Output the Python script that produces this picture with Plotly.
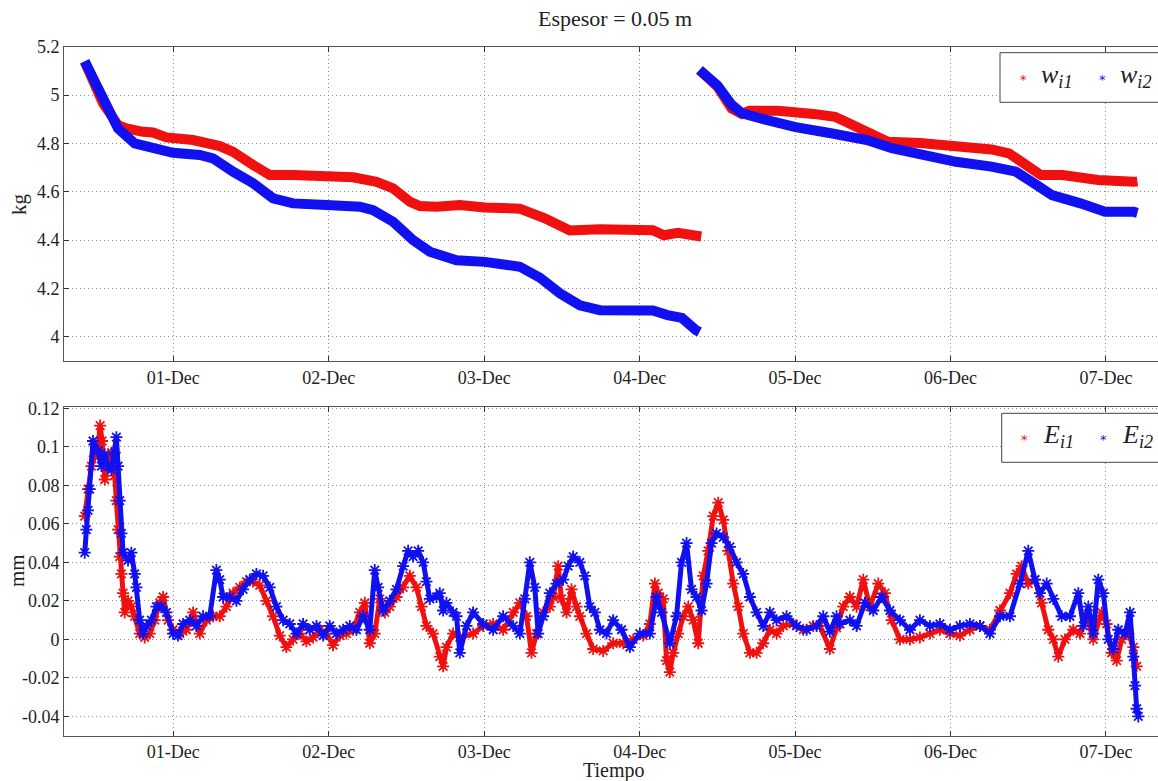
import pandas as pd
import plotly.graph_objects as go

# ---------------------------------------------------------------------------
# Data: time in hours since 30-Nov 00:00, mass (kg) and thickness change (mm)
# ---------------------------------------------------------------------------
START = pd.Timestamp("2011-11-30 00:00")

# mass of sample 1 (two measurement runs, gap between them)
w1_hours = [10.32, 13.14, 15.46, 16.76, 19.32, 20.86, 22.93, 27.04, 31.17, 33.17,
            36.31, 38.89, 42.44, 47.64, 51.75, 55.37, 57.93, 60.51, 62.05, 64.63,
            68.23, 72.09, 77.50, 81.36, 85.22, 89.86, 98.04, 99.74, 101.90, 105.51,
            None,
            105.24, 108.00, 110.19, 111.78, 112.94, 117.34, 122.83, 126.15, 128.31,
            131.63, 134.33, 139.27, 144.83, 150.32, 153.02, 155.26, 157.96, 161.30,
            166.77, 172.29, 172.85]
w1_kg = [5.138, 4.966, 4.876, 4.862, 4.848, 4.845, 4.825, 4.814, 4.789, 4.766,
         4.711, 4.669, 4.669, 4.665, 4.660, 4.641, 4.614, 4.559, 4.541, 4.538,
         4.545, 4.535, 4.530, 4.490, 4.440, 4.445, 4.441, 4.420, 4.430, 4.415,
         None,
         5.104, 5.035, 4.945, 4.922, 4.935, 4.935, 4.922, 4.910, 4.883,
         4.835, 4.807, 4.802, 4.793, 4.775, 4.759, 4.718, 4.669, 4.669,
         4.649, 4.641, 4.643]

# mass of sample 2
w2_hours = [10.32, 13.14, 15.46, 18.04, 20.86, 23.95, 28.08, 30.13, 33.22, 36.31,
            39.40, 42.49, 47.64, 52.79, 54.84, 57.93, 61.02, 63.60, 67.72, 72.09,
            77.50, 80.59, 83.68, 86.77, 89.86, 96.03, 98.04, 100.29, 102.52, 104.68,
            105.24,
            None,
            105.24, 108.00, 110.19, 111.78, 114.56, 120.08, 125.53, 131.09, 134.92,
            139.27, 144.83, 150.32, 154.11, 156.88, 159.66, 164.05, 167.85, 172.29,
            172.85]
w2_kg = [5.140, 4.979, 4.862, 4.800, 4.786, 4.761, 4.752, 4.738, 4.683, 4.635,
         4.573, 4.552, 4.545, 4.538, 4.524, 4.476, 4.400, 4.352, 4.317, 4.310,
         4.290, 4.245, 4.180, 4.130, 4.110, 4.105, 4.109, 4.090, 4.078, 4.028,
         4.020,
         None,
         5.104, 5.040, 4.960, 4.925, 4.904, 4.867, 4.842, 4.814, 4.780,
         4.752, 4.724, 4.704, 4.683, 4.635, 4.586, 4.552, 4.517, 4.517,
         4.513]

# thickness change of sample 1
e1_hours = [10.32, 10.83, 11.35, 11.86, 12.38, 12.70, 13.00, 13.41, 13.92, 14.44,
            14.95, 15.20, 15.47, 15.72, 15.98, 16.24, 16.49, 17.01, 17.52, 18.04,
            18.81, 19.58, 20.36, 21.13, 21.90, 22.42, 23.19, 23.96, 24.99, 26.02,
            27.05, 28.08, 29.11, 30.14, 31.17, 32.20, 33.23, 34.26, 35.29, 36.31,
            37.34, 38.37, 39.40, 40.43, 41.46, 42.49, 43.52, 44.55, 45.58, 46.61,
            47.64, 48.67, 49.70, 50.73, 51.76, 52.79, 53.56, 54.33, 55.10, 55.88,
            56.65, 57.42, 58.45, 59.48, 60.51, 61.54, 62.31, 63.08, 64.11, 65.14,
            65.66, 66.17, 67.20, 68.23, 70.29, 71.84, 73.38, 74.92, 76.47, 77.50,
            78.53, 79.30, 80.07, 81.10, 82.13, 82.65, 83.42, 83.93, 84.71, 85.48,
            86.25, 86.76, 87.79, 88.82, 90.37, 91.91, 93.46, 95.00, 96.55, 97.58,
            98.35, 98.86, 99.64, 100.15, 100.66, 101.18, 101.95, 102.72, 103.50, 104.27,
            105.04, 105.81, 106.58, 107.36, 108.13, 108.90, 109.67, 110.45, 111.22, 111.99,
            113.02, 114.05, 115.08, 116.11, 117.14, 118.17, 119.71, 121.26, 122.80, 123.83,
            125.37, 126.40, 127.43, 128.46, 129.49, 130.52, 131.55, 132.84, 133.87, 134.90,
            136.19, 137.73, 139.27, 140.82, 142.36, 143.91, 145.45, 146.99, 148.54, 150.08,
            151.63, 153.17, 154.20, 154.98, 156.00, 157.03, 158.06, 159.09, 159.87, 160.64,
            161.67, 162.95, 163.98, 165.01, 166.04, 167.33, 168.10, 168.87, 169.65, 170.42,
            171.45, 172.22, 172.74]
e1_mm = [0.064, 0.078, 0.090, 0.095, 0.100, 0.111, 0.103, 0.083, 0.094, 0.097,
         0.085, 0.072, 0.057, 0.043, 0.034, 0.024, 0.014, 0.020, 0.017, 0.012,
         0.003, 0.001, 0.003, 0.010, 0.019, 0.022, 0.010, 0.005, 0.003, 0.005,
         0.014, 0.003, 0.010, 0.012, 0.012, 0.017, 0.024, 0.027, 0.030, 0.030,
         0.028, 0.020, 0.012, 0.002, -0.004, 0.000, 0.003, -0.001, 0.001, 0.005,
         0.003, -0.003, 0.002, 0.003, 0.005, 0.014, 0.019, -0.002, 0.003, 0.021,
         0.014, 0.017, 0.022, 0.027, 0.033, 0.027, 0.017, 0.007, 0.003, -0.009,
         -0.014, -0.004, 0.003, 0.001, 0.003, 0.007, 0.008, 0.005, 0.014, 0.019,
         0.012, -0.007, 0.003, 0.014, 0.017, 0.022, 0.038, 0.021, 0.014, 0.026,
         0.017, 0.012, 0.003, -0.005, -0.006, -0.002, -0.002, 0.000, 0.002, 0.008,
         0.029, 0.024, 0.021, -0.011, -0.017, -0.007, 0.003, 0.012, 0.017, 0.010,
         -0.002, 0.033, 0.046, 0.064, 0.071, 0.062, 0.046, 0.029, 0.017, 0.003,
         -0.007, -0.007, -0.002, 0.005, 0.003, 0.007, 0.008, 0.005, 0.007, 0.007,
         -0.005, 0.006, 0.017, 0.022, 0.017, 0.031, 0.017, 0.029, 0.024, 0.010,
         0.000, 0.000, 0.001, 0.003, 0.005, 0.003, 0.002, 0.005, 0.007, 0.005,
         0.015, 0.024, 0.034, 0.038, 0.029, 0.031, 0.019, 0.005, 0.000, -0.009,
         0.000, 0.005, 0.003, 0.012, 0.000, 0.014, 0.008, -0.007, -0.011, 0.000,
         0.003, -0.004, -0.014]

# thickness change of sample 2
e2_hours = [10.32, 10.57, 10.83, 11.09, 11.60, 12.38, 12.89, 13.41, 13.92, 14.44,
            14.95, 15.21, 15.47, 15.72, 15.98, 16.24, 17.01, 17.52, 18.04, 18.30,
            18.81, 19.33, 19.84, 20.61, 21.39, 22.16, 22.93, 23.96, 24.73, 25.50,
            26.53, 27.56, 28.59, 29.62, 30.65, 31.17, 31.68, 32.71, 33.74, 34.77,
            35.80, 36.83, 37.86, 38.89, 39.92, 40.95, 41.98, 43.01, 44.04, 45.07,
            46.10, 47.13, 48.15, 49.18, 50.21, 51.24, 52.27, 53.30, 54.33, 55.10,
            55.62, 56.39, 57.42, 58.45, 59.48, 60.25, 61.02, 61.80, 62.57, 63.08,
            63.60, 64.63, 65.14, 65.66, 66.17, 67.20, 67.72, 68.23, 69.26, 70.29,
            71.84, 73.38, 74.92, 76.47, 77.50, 78.27, 79.04, 79.81, 80.33, 81.10,
            82.13, 83.16, 84.19, 84.96, 85.74, 86.76, 87.54, 88.31, 89.08, 89.85,
            90.88, 91.91, 93.20, 94.49, 96.03, 97.58, 98.61, 99.38, 100.66, 101.69,
            102.47, 103.24, 104.01, 104.78, 105.55, 106.33, 107.10, 107.87, 108.90, 109.93,
            110.96, 111.99, 113.02, 114.05, 115.08, 116.11, 117.14, 118.68, 120.23, 121.77,
            123.32, 124.35, 125.37, 126.40, 126.92, 128.46, 129.49, 130.78, 132.07, 133.35,
            134.64, 136.19, 137.73, 139.27, 140.82, 142.36, 143.91, 145.45, 146.99, 148.54,
            150.08, 151.63, 153.17, 154.72, 156.00, 157.03, 157.81, 158.84, 159.87, 161.15,
            162.44, 163.73, 164.50, 165.27, 166.04, 166.81, 167.59, 168.36, 169.13, 169.90,
            170.93, 171.71, 172.22, 172.48, 172.74, 172.99]
e2_mm = [0.045, 0.057, 0.067, 0.078, 0.103, 0.098, 0.090, 0.096, 0.090, 0.088,
         0.097, 0.105, 0.090, 0.072, 0.055, 0.045, 0.041, 0.045, 0.034, 0.027,
         0.010, 0.003, 0.007, 0.010, 0.017, 0.017, 0.014, 0.003, 0.002, 0.008,
         0.010, 0.007, 0.012, 0.012, 0.036, 0.031, 0.022, 0.022, 0.020, 0.026,
         0.031, 0.034, 0.033, 0.027, 0.017, 0.010, 0.008, 0.003, 0.008, 0.005,
         0.007, 0.002, 0.007, 0.003, 0.005, 0.007, 0.005, 0.012, 0.005, 0.036,
         0.027, 0.015, 0.020, 0.026, 0.038, 0.046, 0.043, 0.046, 0.040, 0.030,
         0.021, 0.022, 0.024, 0.015, 0.019, 0.014, 0.012, -0.007, 0.007, 0.014,
         0.008, 0.005, 0.012, 0.007, 0.003, 0.021, 0.040, 0.027, 0.003, 0.012,
         0.024, 0.029, 0.031, 0.038, 0.043, 0.040, 0.033, 0.017, 0.014, 0.005,
         0.003, 0.010, 0.005, -0.004, 0.003, 0.003, 0.022, 0.014, -0.002, 0.012,
         0.040, 0.050, 0.026, 0.022, 0.015, 0.029, 0.050, 0.055, 0.053, 0.048,
         0.040, 0.034, 0.022, 0.014, 0.007, 0.014, 0.010, 0.012, 0.007, 0.005,
         0.007, 0.012, 0.004, 0.012, 0.008, 0.010, 0.007, 0.019, 0.015, 0.022,
         0.015, 0.010, 0.005, 0.010, 0.007, 0.008, 0.005, 0.007, 0.008, 0.007,
         0.003, 0.012, 0.012, 0.029, 0.046, 0.031, 0.024, 0.029, 0.021, 0.012,
         0.012, 0.024, 0.007, 0.017, 0.003, 0.031, 0.024, 0.000, -0.005, 0.005,
         0.003, 0.014, -0.009, -0.024, -0.036, -0.040]

# axis ticks
kg_ticks = [4.0, 4.2, 4.4, 4.6, 4.8, 5.0, 5.2]
kg_labels = ["4", "4.2", "4.4", "4.6", "4.8", "5", "5.2"]
mm_ticks = [-0.04, -0.02, 0.0, 0.02, 0.04, 0.06, 0.08, 0.10, 0.12]
mm_labels = ["-0.04", "-0.02", "0", "0.02", "0.04", "0.06", "0.08", "0.1", "0.12"]

RED = "#f01010"
BLUE = "#1010f0"


def to_time(hours):
    return [START + pd.Timedelta(hours=h) if h is not None else None for h in hours]


# ---------------------------------------------------------------------------
# Figure geometry (pixels)
# ---------------------------------------------------------------------------
W, H = 1158, 781
ML = 64
PW = W - ML


def px(x):
    return (x - ML) / PW


def py(y):
    return 1 - y / H


SERIF = "Liberation Serif"
INK = "#222"

fig = go.Figure()

fig.add_trace(go.Scatter(x=to_time(w1_hours), y=w1_kg, mode="lines",
                         line=dict(color=RED, width=10), xaxis="x", yaxis="y",
                         showlegend=False, connectgaps=False))
fig.add_trace(go.Scatter(x=to_time(w2_hours), y=w2_kg, mode="lines",
                         line=dict(color=BLUE, width=10), xaxis="x", yaxis="y",
                         showlegend=False, connectgaps=False))

marker_style = dict(symbol="asterisk-open", size=10)
fig.add_trace(go.Scatter(x=to_time(e1_hours), y=e1_mm, mode="lines+markers",
                         line=dict(color=RED, width=5),
                         marker=dict(color=RED, line=dict(color=RED, width=1.8), **marker_style),
                         xaxis="x2", yaxis="y2", showlegend=False))
fig.add_trace(go.Scatter(x=to_time(e2_hours), y=e2_mm, mode="lines+markers",
                         line=dict(color=BLUE, width=5),
                         marker=dict(color=BLUE, line=dict(color=BLUE, width=1.8), **marker_style),
                         xaxis="x2", yaxis="y2", showlegend=False))

x_range = [START + pd.Timedelta(hours=7.12), START + pd.Timedelta(hours=176.03)]

common_x = dict(
    type="date", range=x_range, tickformat="%d-%b", dtick=86400000,
    tick0="2011-12-01", ticks="inside", ticklen=5, tickcolor="#333",
    showline=True, linecolor="#555", linewidth=1, mirror="ticks",
    showgrid=True, gridcolor="#8c8c8c", griddash="1px,3px", gridwidth=1,
    tickfont=dict(family=SERIF, size=18, color=INK), zeroline=False,
    domain=[0, 1],
)
common_y = dict(
    ticks="inside", ticklen=5, tickcolor="#333", showline=True, linecolor="#555",
    linewidth=1, mirror=False, showgrid=True, gridcolor="#8c8c8c",
    griddash="1px,3px", gridwidth=1, zeroline=False,
    tickfont=dict(family=SERIF, size=18, color=INK),
)

fig.update_layout(
    width=W, height=H,
    margin=dict(l=ML, r=0, t=0, b=0, autoexpand=False),
    paper_bgcolor="white", plot_bgcolor="white",
    showlegend=False,
    font=dict(family=SERIF, color=INK),
    xaxis=dict(anchor="y", **common_x),
    yaxis=dict(anchor="x", domain=[py(361), py(46.7)], range=[3.9, 5.2],
               tickvals=kg_ticks, ticktext=kg_labels, **common_y),
    xaxis2=dict(anchor="y2", **common_x),
    yaxis2=dict(anchor="x2", domain=[py(735.7), py(406.7)], range=[-0.05, 0.1208],
                tickvals=mm_ticks, ticktext=mm_labels, **common_y),
)

# titles and axis labels
annotations = [
    dict(text="Espesor = 0.05 m", x=px(615), y=py(19), font=dict(family=SERIF, size=22, color=INK)),
    dict(text="kg", x=px(19), y=py(204), textangle=-90, font=dict(family=SERIF, size=21, color=INK)),
    dict(text="mm", x=px(17), y=py(571), textangle=-90, font=dict(family=SERIF, size=21, color=INK)),
    dict(text="Tiempo", x=px(614), y=py(770), font=dict(family=SERIF, size=20, color=INK)),
]

# legend boxes drawn as shapes and text
shapes = []
legends = [
    (1000, 52.7, 102.3, "w"),
    (1001.7, 413.3, 462.3, "E"),
]
for x0, y0, y1, sym in legends:
    shapes.append(dict(type="rect", xref="paper", yref="paper", x0=px(x0), x1=px(W + 40),
                       y0=py(y1), y1=py(y0), line=dict(color="#444", width=1),
                       fillcolor="white", layer="above"))
    yc = (y0 + y1) / 2
    for k, (col, idx) in enumerate([(RED, "i1"), (BLUE, "i2")]):
        xm = x0 + 23 + 79 * k
        annotations.append(dict(text="*", x=px(xm), y=py(yc + 2), xanchor="center",
                                font=dict(family="DejaVu Sans", size=13, color=col)))
        annotations.append(dict(text=f"<i>{sym}</i><sub><i>{idx}</i></sub>", x=px(xm + 16),
                                y=py(yc - 2), xanchor="left",
                                font=dict(family=SERIF, size=26, color=INK)))

for a in annotations:
    a.setdefault("xref", "paper")
    a.setdefault("yref", "paper")
    a.setdefault("showarrow", False)
    a.setdefault("yanchor", "middle")
    a.setdefault("xanchor", "center")

fig.update_layout(annotations=annotations, shapes=shapes)

fig.write_html("out.html")
